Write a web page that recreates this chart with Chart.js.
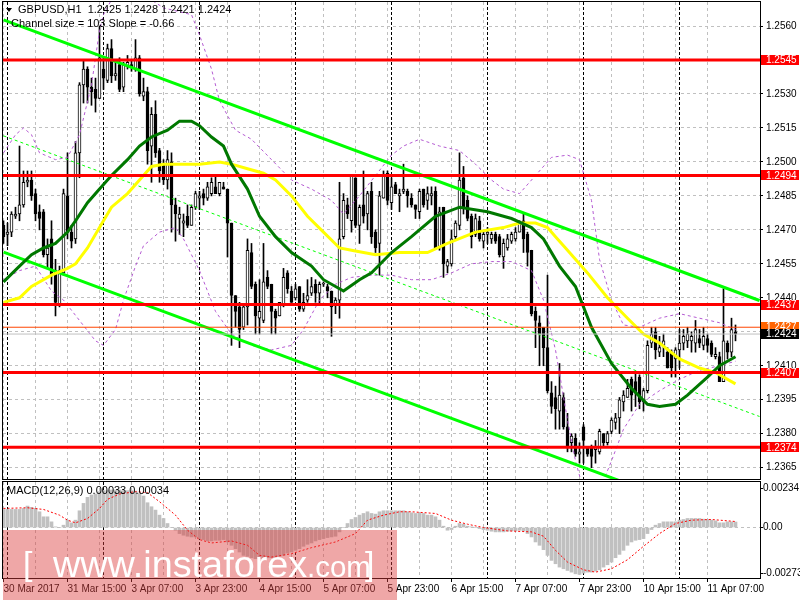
<!DOCTYPE html>
<html>
<head>
<meta charset="utf-8">
<script src="https://cdn.jsdelivr.net/npm/chart.js@4.4.1/dist/chart.umd.min.js"></script>
<style>
  html, body { margin: 0; padding: 0; background: #fff; }
  #wrap { position: relative; width: 800px; height: 600px; overflow: hidden; }
  #main { position: absolute; left: 0; top: 0; }
  #macd { position: absolute; left: 0; top: 480px; }
</style>
</head>
<body>
<div id="wrap">
  <canvas id="main" width="800" height="480"></canvas>
  <canvas id="macd" width="800" height="120"></canvas>
</div>
<script>
// GBPUSD H1, 30 Mar 23:00 .. 11 Apr 14:00 (184 bars)
const opens = [1.2472,1.2468,1.2469,1.2476,1.2477,1.2481,1.2491,1.2492,1.2486,1.2478,
  1.2478,1.2459,1.2466,1.2452,1.2437,1.2451,1.2485,1.2469,1.2466,1.2504,
  1.2534,1.2541,1.2533,1.2532,1.2528,1.2541,1.2536,1.2550,1.2538,1.2543,
  1.2533,1.2542,1.2543,1.2541,1.2546,1.2529,1.2531,1.2507,1.2521,1.2505,
  1.2499,1.2492,1.2500,1.2481,1.2475,1.2473,1.2476,1.2472,1.2480,1.2484,
  1.2486,1.2484,1.2486,1.2489,1.2486,1.2489,1.2488,1.2473,1.2441,1.2436,
  1.2427,1.2436,1.2460,1.2446,1.2431,1.2430,1.2449,1.2446,1.2434,1.2432,
  1.2437,1.2451,1.2443,1.2440,1.2445,1.2435,1.2439,1.2442,1.2446,1.2442,
  1.2446,1.2445,1.2443,1.2437,1.2439,1.2467,1.2481,1.2474,1.2493,1.2472,
  1.2481,1.2477,1.2487,1.2469,1.2464,1.2484,1.2495,1.2482,1.2490,1.2485,
  1.2487,1.2487,1.2484,1.2481,1.2478,1.2488,1.2483,1.2485,1.2487,1.2462,
  1.2480,1.2454,1.2455,1.2467,1.2472,1.2493,1.2483,1.2476,1.2468,1.2474,
  1.2465,1.2468,1.2466,1.2468,1.2467,1.2458,1.2462,1.2465,1.2466,1.2469,
  1.2474,1.2468,1.2461,1.2434,1.2429,1.2427,1.2418,1.2398,1.2396,1.2390,
  1.2396,1.2383,1.2376,1.2378,1.2371,1.2383,1.2374,1.2374,1.2373,1.2372,
  1.2380,1.2376,1.2381,1.2385,1.2387,1.2394,1.2396,1.2404,1.2403,1.2405,
  1.2394,1.2399,1.2420,1.2425,1.2416,1.2419,1.2416,1.2416,1.2413,1.2417,
  1.2420,1.2421,1.2421,1.2420,1.2422,1.2419,1.2422,1.2420,1.2414,1.2414,
  1.2403,1.2420,1.2416,1.2425];
const highs = [1.2474,1.2473,1.2478,1.2480,1.2507,1.2496,1.2496,1.2496,1.2488,1.2481,
  1.2479,1.2466,1.2474,1.2457,1.2454,1.2488,1.2504,1.2472,1.2509,1.2535,
  1.2545,1.2542,1.2537,1.2537,1.2560,1.2546,1.2552,1.2554,1.2544,1.2546,
  1.2544,1.2547,1.2545,1.2554,1.2547,1.2537,1.2533,1.2524,1.2527,1.2506,
  1.2501,1.2505,1.2504,1.2484,1.2480,1.2477,1.2481,1.2481,1.2487,1.2487,
  1.2488,1.2491,1.2493,1.2494,1.2491,1.2491,1.2488,1.2473,1.2441,1.2438,
  1.2437,1.2466,1.2464,1.2447,1.2448,1.2464,1.2452,1.2446,1.2435,1.2438,
  1.2453,1.2452,1.2445,1.2446,1.2445,1.2442,1.2448,1.2449,1.2448,1.2447,
  1.2447,1.2446,1.2443,1.2440,1.2491,1.2486,1.2484,1.2494,1.2493,1.2481,
  1.2496,1.2487,1.2491,1.2470,1.2487,1.2496,1.2496,1.2493,1.2491,1.2488,
  1.2499,1.2488,1.2486,1.2481,1.2488,1.2488,1.2489,1.2489,1.2489,1.2480,
  1.2480,1.2457,1.2470,1.2474,1.2504,1.2498,1.2485,1.2477,1.2477,1.2476,
  1.2469,1.2471,1.2469,1.2469,1.2468,1.2466,1.2468,1.2469,1.2471,1.2474,
  1.2477,1.2469,1.2461,1.2436,1.2432,1.2427,1.2450,1.2403,1.2401,1.2411,
  1.2398,1.2389,1.2380,1.2380,1.2376,1.2384,1.2374,1.2375,1.2377,1.2382,
  1.2380,1.2381,1.2387,1.2389,1.2396,1.2399,1.2404,1.2405,1.2407,1.2406,
  1.2400,1.2421,1.2427,1.2427,1.2423,1.2424,1.2418,1.2417,1.2418,1.2426,
  1.2426,1.2427,1.2425,1.2430,1.2426,1.2427,1.2424,1.2421,1.2418,1.2416,
  1.2444,1.2421,1.2431,1.2428];
const lows = [1.2464,1.2463,1.2467,1.2475,1.2474,1.2480,1.2489,1.2483,1.2474,1.2470,
  1.2458,1.2453,1.2446,1.2432,1.2436,1.2450,1.2466,1.2462,1.2464,1.2493,
  1.2526,1.2526,1.2525,1.2522,1.2528,1.2532,1.2535,1.2535,1.2536,1.2531,
  1.2531,1.2541,1.2540,1.2540,1.2529,1.2527,1.2499,1.2491,1.2502,1.2491,
  1.2490,1.2488,1.2469,1.2465,1.2468,1.2467,1.2471,1.2472,1.2479,1.2479,
  1.2481,1.2483,1.2485,1.2486,1.2485,1.2488,1.2458,1.2419,1.2427,1.2418,
  1.2426,1.2428,1.2444,1.2424,1.2424,1.2429,1.2444,1.2424,1.2424,1.2432,
  1.2436,1.2442,1.2438,1.2439,1.2434,1.2434,1.2438,1.2441,1.2438,1.2437,
  1.2445,1.2440,1.2423,1.2433,1.2431,1.2466,1.2475,1.2469,1.2471,1.2464,
  1.2473,1.2470,1.2464,1.2460,1.2450,1.2484,1.2481,1.2479,1.2486,1.2478,
  1.2486,1.2480,1.2480,1.2475,1.2475,1.2480,1.2479,1.2481,1.2462,1.2461,
  1.2449,1.2451,1.2454,1.2466,1.2470,1.2477,1.2474,1.2462,1.2467,1.2465,
  1.2462,1.2464,1.2464,1.2464,1.2458,1.2453,1.2461,1.2464,1.2465,1.2469,
  1.2460,1.2454,1.2432,1.2418,1.2410,1.2410,1.2398,1.2389,1.2382,1.2382,
  1.2382,1.2372,1.2372,1.2370,1.2367,1.2367,1.2370,1.2365,1.2367,1.2371,
  1.2374,1.2375,1.2380,1.2382,1.2380,1.2390,1.2396,1.2390,1.2392,1.2391,
  1.2390,1.2398,1.2418,1.2413,1.2414,1.2414,1.2409,1.2405,1.2405,1.2409,
  1.2417,1.2418,1.2416,1.2416,1.2418,1.2417,1.2416,1.2414,1.2413,1.2403,
  1.2403,1.2413,1.2414,1.2421];
const closes = [1.2467,1.2469,1.2477,1.2477,1.2481,1.2491,1.2492,1.2485,1.2477,1.2475,
  1.2459,1.2462,1.2450,1.2438,1.2452,1.2486,1.2469,1.2465,1.2504,1.2534,
  1.2541,1.2533,1.2531,1.2528,1.2546,1.2537,1.2550,1.2538,1.2539,1.2532,
  1.2543,1.2544,1.2542,1.2546,1.2530,1.2531,1.2505,1.2521,1.2504,1.2496,
  1.2492,1.2501,1.2481,1.2477,1.2477,1.2474,1.2472,1.2480,1.2486,1.2485,
  1.2484,1.2489,1.2491,1.2486,1.2491,1.2488,1.2473,1.2441,1.2434,1.2426,
  1.2436,1.2461,1.2445,1.2432,1.2434,1.2447,1.2445,1.2434,1.2431,1.2438,
  1.2449,1.2444,1.2438,1.2444,1.2435,1.2438,1.2441,1.2445,1.2442,1.2446,
  1.2446,1.2443,1.2436,1.2439,1.2466,1.2483,1.2477,1.2494,1.2472,1.2480,
  1.2476,1.2486,1.2467,1.2462,1.2485,1.2494,1.2483,1.2489,1.2486,1.2486,
  1.2488,1.2485,1.2481,1.2479,1.2487,1.2481,1.2486,1.2486,1.2462,1.2478,
  1.2455,1.2456,1.2466,1.2473,1.2492,1.2480,1.2475,1.2467,1.2475,1.2466,
  1.2468,1.2469,1.2468,1.2465,1.2459,1.2464,1.2466,1.2468,1.2469,1.2473,
  1.2466,1.2460,1.2433,1.2430,1.2424,1.2418,1.2399,1.2392,1.2391,1.2397,
  1.2383,1.2374,1.2379,1.2371,1.2372,1.2377,1.2371,1.2370,1.2374,1.2381,
  1.2376,1.2380,1.2386,1.2387,1.2395,1.2397,1.2400,1.2397,1.2398,1.2394,
  1.2399,1.2419,1.2424,1.2417,1.2418,1.2421,1.2409,1.2409,1.2417,1.2420,
  1.2423,1.2424,1.2423,1.2426,1.2420,1.2423,1.2419,1.2415,1.2415,1.2403,
  1.2421,1.2416,1.2426,1.2424];

// MACD(12,26,9) histogram and signal
const macdHist = [0.00108,0.00108,0.00108,0.00108,0.00108,0.00114,0.00128,0.0012,0.00114,0.00094,
  0.00064,0.00064,0.00034,0.00004,0,0.00014,0.00044,0.00028,0.00044,0.001,
  0.00144,0.0018,0.00194,0.002,0.00214,0.0022,0.0022,0.00224,0.00224,0.00224,
  0.0022,0.0022,0.0022,0.00218,0.00204,0.00188,0.00148,0.00124,0.00104,0.00074,
  0.00054,0.00024,0,-0.00016,-0.00036,-0.00046,-0.00052,-0.00056,-0.00056,-0.00066,
  -0.00072,-0.0008,-0.0008,-0.00076,-0.00076,-0.00072,-0.00086,-0.00106,-0.00126,-0.00146,
  -0.00166,-0.00172,-0.0018,-0.00186,-0.00186,-0.00186,-0.0018,-0.0018,-0.0018,-0.00172,
  -0.00166,-0.00152,-0.00146,-0.00136,-0.00126,-0.00112,-0.001,-0.00092,-0.0008,-0.00072,
  -0.00066,-0.0006,-0.00056,-0.00052,-0.00026,0,0.00024,0.00048,0.0006,0.00074,
  0.00084,0.00094,0.00084,0.0008,0.00094,0.001,0.001,0.001,0.001,0.001,
  0.001,0.00094,0.00088,0.00084,0.00088,0.00084,0.00074,0.00074,0.00064,0.00044,
  0.00008,-0.00016,-0.00012,0.00008,0.00024,0.0002,0.00008,0.00004,0,-0.00006,
  -0.00012,-0.00016,-0.00022,-0.00026,-0.00026,-0.00026,-0.00022,-0.0002,-0.0002,-0.00016,
  -0.0002,-0.00036,-0.00056,-0.00086,-0.00106,-0.00132,-0.00166,-0.00196,-0.00216,-0.00236,
  -0.00246,-0.00256,-0.00266,-0.00276,-0.0028,-0.00272,-0.00266,-0.00266,-0.0026,-0.00252,
  -0.00236,-0.00222,-0.00206,-0.0018,-0.0016,-0.00136,-0.00106,-0.00086,-0.00076,-0.00072,
  -0.00066,-0.00036,-0.00012,0.00014,0.00024,0.00034,0.00034,0.00034,0.00034,0.00044,
  0.00048,0.00054,0.00054,0.00054,0.00054,0.0005,0.00048,0.00044,0.0004,0.00028,
  0.00028,0.00034,0.00034,0.00033];
const signalIdx = [0,6,10,14,16,18,21,24,26,29,33,36,39,43,46,49,52,57,61,64,67,72,77,83,88,91,95,99,
  102,108,112,116,120,126,132,135,138,141,145,148,152,156,160,164,168,172,177,183];
const signalVal = [0.00114,0.00118,0.00108,0.00074,0.00044,0.00028,0.00054,0.00114,0.00168,0.002,0.00214,0.00208,0.00154,0.00074,-0.00016,-0.00072,-0.00092,-0.0008,-0.00106,-0.00166,-0.00176,-0.00156,-0.0012,-0.00086,-0.00036,0.00044,0.00074,0.00094,
  0.00094,0.00084,0.00044,0.0002,0,-0.0002,-0.00026,-0.00052,-0.00136,-0.00206,-0.00252,-0.00266,-0.00246,-0.00192,-0.00112,-0.00036,0.00024,0.00044,0.00048,0.00036];

// moving averages (read at sample bars)
const maFastIdx = [0,4,7,10,13,16,18,21,24,27,31,34,37,41,44,47,49,52,55,57,61,64,68,72,77,80,84,85,89,92,97,102,108,114,121,127,132,135,139,143,147,152,157,161,164,168,171,176,179,183];
const maFastVal = [1.2447,1.2454,1.2459,1.2462,1.2464,1.2469,1.2474,1.2482,1.2488,1.2494,1.2501,1.2507,1.2511,1.2514,1.2518,1.2518,1.2516,1.2511,1.2507,1.2499,1.2488,1.2476,1.2467,1.2460,1.2454,1.2448,1.2444,1.2443,1.2448,1.2451,1.2460,1.2467,1.2476,1.2480,1.2478,1.2475,1.2471,1.2466,1.2454,1.2445,1.2427,1.2411,1.2400,1.2393,1.2392,1.2393,1.2397,1.2405,1.2410,1.2414];
const maSlowIdx = [0,4,7,12,16,18,21,24,27,31,34,37,40,44,49,54,57,61,65,68,72,76,80,84,87,93,99,106,111,118,125,129,133,136,138,141,146,151,156,160,164,169,174,178,183];
const maSlowVal = [1.2438,1.2440,1.2445,1.2450,1.2453,1.2455,1.2462,1.2471,1.2480,1.2486,1.2492,1.2498,1.2499,1.2499,1.2499,1.2500,1.2499,1.2497,1.2495,1.2492,1.2485,1.2476,1.2469,1.2462,1.2461,1.2459,1.2460,1.2460,1.2464,1.2469,1.2471,1.2473,1.2473,1.2471,1.2467,1.2461,1.2451,1.2440,1.2431,1.2424,1.2420,1.2413,1.2409,1.2407,1.2402];

// envelope bands (purple dashed)
const bandUpIdx = [0,3,5,7,9,13,16,19,22,24,25,28,34,40,47,49,52,54,58,62,67,72,77,82,85,89,93,97,100,104,109,114,118,122,125,129,133,137,141,144,147,149,152,155,159,164,169,174,179,183];
const bandUpVal = [1.2504,1.2512,1.2515,1.2512,1.2504,1.2501,1.2502,1.2512,1.2534,1.2558,1.2565,1.2575,1.2575,1.2568,1.2565,1.2556,1.2541,1.2527,1.2514,1.2510,1.2501,1.2492,1.2488,1.2483,1.2477,1.2485,1.2494,1.2503,1.2507,1.2510,1.2507,1.2505,1.2499,1.2492,1.2488,1.2486,1.2494,1.2502,1.2503,1.2501,1.2483,1.2457,1.2439,1.2428,1.2427,1.2431,1.2433,1.2431,1.2429,1.2426];
const bandLoIdx = [0,4,8,12,15,19,23,25,28,30,33,35,39,43,45,49,53,57,62,67,72,75,79,83,87,92,97,102,107,112,117,122,127,132,135,138,141,143,145,149,152,155,159,164,169,174,179,183];
const bandLoVal = [1.2448,1.2452,1.2454,1.2443,1.2439,1.2430,1.2421,1.2419,1.2426,1.2439,1.2454,1.2463,1.2469,1.2471,1.2466,1.2452,1.2434,1.2424,1.2419,1.2417,1.2419,1.2426,1.2439,1.2446,1.2449,1.2450,1.2450,1.2448,1.2448,1.2451,1.2455,1.2456,1.2456,1.2452,1.2439,1.2417,1.2386,1.2368,1.2355,1.2355,1.2368,1.2382,1.2393,1.2399,1.2404,1.2408,1.2410,1.2412];

// regression channel (two end points)
const channelIdx = [0, 189];
const channelUpper = [1.25627, 1.24388];
const channelMid = [1.25115, 1.23876];
const channelLower = [1.24602, 1.23363];

// horizontal levels
const redLevels = [1.2545, 1.2494, 1.2437, 1.2407, 1.2374];
const askLevel = 1.2427;
const bidLevel = 1.2424;

const priceTicks = [1.2365,1.2380,1.2395,1.2410,1.2425,1.2440,1.2455,1.2470,1.2485,1.2500,1.2515,1.2530,1.2545,1.2560];
const macdTicks = [-0.00273, 0, 0.00234];
const macdTickLabels = ['-0.00273', '0.00', '0.00234'];
const timeLabels = ['30 Mar 2017','31 Mar 15:00','3 Apr 07:00','3 Apr 23:00','4 Apr 15:00','5 Apr 07:00',
  '5 Apr 23:00','6 Apr 15:00','7 Apr 07:00','7 Apr 23:00','10 Apr 15:00','11 Apr 07:00'];
const dayStarts = [1, 25, 49, 73, 97, 121, 145, 169];

const FONT = '"Liberation Sans", Arial, sans-serif';
Chart.defaults.font.family = FONT;
Chart.defaults.font.size = 10;
Chart.defaults.color = '#000';

const xMin = -0.125, xMax = 189.125;
const bars = opens.map((_, i) => i);
const gridBars = bars.filter(i => i % 8 === 0);
const GRID = '#c0c0c0';

const pts = (idx, vals) => idx.map((x, k) => ({ x: x, y: vals[k] }));
const flat = v => [{ x: xMin, y: v }, { x: xMax, y: v }];
function lineDs(data, color, width, dash, order) {
  return { type: 'line', data: data, borderColor: color, borderWidth: width, borderDash: dash || [],
    pointRadius: 0, tension: 0, fill: false, clip: 0, order: order };
}

function xScale(hideLabels, height) {
  return {
    type: 'linear', min: xMin, max: xMax, offset: false,
    afterBuildTicks: s => { s.ticks = gridBars.map(v => ({ value: v })); },
    afterFit: s => { s.height = height; s.paddingLeft = 0; s.paddingRight = 0; },
    ticks: hideLabels ? { display: false } : {
      autoSkip: false, maxRotation: 0, align: 'start', padding: 1,
      callback: v => (v % 16 === 0 ? timeLabels[v / 16] : '')
    },
    grid: {
      color: GRID, offset: false, drawTicks: !hideLabels, tickLength: 4,
      tickColor: c => (c.tick && c.tick.value % 16 === 0 ? '#000' : 'rgba(0,0,0,0)'),
      tickBorderDash: []
    },
    border: { display: false, dash: [3, 3] }
  };
}
const fitY = s => { s.width = 40; s.paddingTop = 0; s.paddingBottom = 0; };

function drawDaySeparators(chart) {
  const { ctx, chartArea: a, scales: { x } } = chart;
  ctx.save();
  ctx.strokeStyle = '#000';
  ctx.lineWidth = 1;
  ctx.setLineDash([3, 2]);
  dayStarts.forEach(d => {
    const px = Math.round(x.getPixelForValue(d) - 0.5) + 0.5;
    ctx.beginPath();
    ctx.moveTo(px, a.top);
    ctx.lineTo(px, a.bottom);
    ctx.stroke();
  });
  ctx.restore();
}

function drawFrame(chart) {
  const { ctx, chartArea: a } = chart;
  ctx.save();
  ctx.strokeStyle = '#000';
  ctx.lineWidth = 1;
  ctx.strokeRect(a.left - 0.5, a.top - 0.5, a.right - a.left + 1, a.bottom - a.top + 1);
  ctx.restore();
}

const mainDecor = {
  id: 'mainDecor',
  beforeDatasetsDraw(chart) { drawDaySeparators(chart); },
  afterDraw(chart) {
    const { ctx } = chart;
    const y = chart.scales.y;
    drawFrame(chart);
    ctx.save();
    ctx.font = '10px ' + FONT;
    ctx.textBaseline = 'middle';
    const box = (v, bg) => {
      const py = y.getPixelForValue(v);
      ctx.fillStyle = bg;
      ctx.fillRect(761, Math.round(py) - 5, 38, 10);
      ctx.fillStyle = '#fff';
      ctx.fillText(v.toFixed(4), 766, py + 0.5);
    };
    redLevels.forEach(v => box(v, '#ff0000'));
    box(askLevel, '#ff6400');
    box(bidLevel, '#000000');
    // header
    ctx.fillStyle = '#000';
    ctx.beginPath();
    ctx.moveTo(6, 8); ctx.lineTo(12, 8); ctx.lineTo(9, 12); ctx.closePath(); ctx.fill();
    ctx.font = '11px ' + FONT;
    ctx.fillText('GBPUSD,H1  1.2425 1.2428 1.2421 1.2424', 18, 10);
    ctx.fillText('Channel size = 103 Slope = -0.66', 11, 24);
    ctx.restore();
  }
};

const macdDecor = {
  id: 'macdDecor',
  beforeDatasetsDraw(chart) { drawDaySeparators(chart); },
  afterDraw(chart) {
    const { ctx } = chart;
    drawFrame(chart);
    ctx.save();
    ctx.font = '11px ' + FONT;
    ctx.textBaseline = 'middle';
    ctx.fillStyle = '#000';
    ctx.fillText('MACD(12,26,9) 0.00033 0.00034', 7, 11);
    // watermark
    ctx.fillStyle = 'rgba(220,60,60,0.45)';
    ctx.fillRect(3, 50, 394, 70);
    ctx.fillStyle = '#fff';
    ctx.textBaseline = 'alphabetic';
    ctx.font = '40px ' + FONT;
    const size = 40 * 254 / ctx.measureText('www.instaforex').width;
    ctx.font = size.toFixed(1) + 'px ' + FONT;
    ctx.fillText('www.instaforex', 53, 97);
    ctx.font = (size * 0.78).toFixed(1) + 'px ' + FONT;
    ctx.fillText('.com', 307, 97);
    ctx.font = '34px ' + FONT;
    ctx.fillText('[', 23, 95);
    ctx.fillText(']', 365, 95);
    ctx.restore();
  }
};

new Chart(document.getElementById('main'), {
  type: 'bar',
  data: {
    datasets: [
      { type: 'bar', data: bars.map(i => ({ x: i, y: [lows[i], highs[i]] })), backgroundColor: '#000',
        borderWidth: 0, grouped: false, barThickness: 1, maxBarThickness: 1, order: 21 },
      { type: 'bar', data: bars.map(i => ({ x: i, y: [opens[i], closes[i]] })),
        backgroundColor: bars.map(i => (closes[i] >= opens[i] ? '#fff' : '#000')),
        borderColor: '#000', borderWidth: 1, borderSkipped: false, minBarLength: 1,
        grouped: false, barThickness: 3, maxBarThickness: 3, order: 20 },
      lineDs(pts(bandUpIdx, bandUpVal), '#b45ad2', 1, [3, 3], 9),
      lineDs(pts(bandLoIdx, bandLoVal), '#b45ad2', 1, [3, 3], 9),
      lineDs(pts(channelIdx, channelMid), '#00ff00', 1, [3, 3], 8),
      lineDs(pts(channelIdx, channelUpper), '#00ff00', 3, [], 7),
      lineDs(pts(channelIdx, channelLower), '#00ff00', 3, [], 7),
      lineDs(pts(maSlowIdx, maSlowVal), '#ffff00', 3, [], 6),
      lineDs(pts(maFastIdx, maFastVal), '#007800', 3, [], 5),
      lineDs(flat(bidLevel), '#c0c0c0', 1, [], 4),
      lineDs(flat(askLevel), '#ff4500', 1, [], 4),
      ...redLevels.map(v => lineDs(flat(v), '#ff0000', 3, [], 3))
    ]
  },
  options: {
    responsive: false, animation: false,
    layout: { padding: { left: 3, top: 2, right: 0, bottom: 1 } },
    plugins: { legend: { display: false }, tooltip: { enabled: false } },
    scales: {
      x: xScale(true, 0),
      y: {
        position: 'right', min: 1.23600, max: 1.25706,
        afterBuildTicks: s => { s.ticks = priceTicks.map(v => ({ value: v })); },
        afterFit: fitY,
        ticks: { autoSkip: false, padding: 3, callback: v => v.toFixed(4) },
        grid: { color: GRID, tickColor: '#000', tickLength: 3, tickBorderDash: [] },
        border: { display: false, dash: [3, 3] }
      }
    }
  },
  plugins: [mainDecor]
});

new Chart(document.getElementById('macd'), {
  type: 'bar',
  data: {
    datasets: [
      { type: 'bar', data: bars.map(i => ({ x: i, y: macdHist[i] })), backgroundColor: '#c0c0c0',
        borderWidth: 0, barThickness: 3, maxBarThickness: 3, order: 2 },
      lineDs(pts(signalIdx, signalVal), '#ff0000', 1, [2, 2], 1)
    ]
  },
  options: {
    responsive: false, animation: false,
    layout: { padding: { left: 3, top: 2, right: 0, bottom: 0 } },
    plugins: { legend: { display: false }, tooltip: { enabled: false } },
    scales: {
      x: xScale(false, 22),
      y: {
        position: 'right', min: -0.00301, max: 0.002716,
        afterBuildTicks: s => { s.ticks = macdTicks.map(v => ({ value: v })); },
        afterFit: fitY,
        ticks: { autoSkip: false, padding: 0, callback: (v, i) => macdTickLabels[i] },
        grid: { color: c => (c.tick && c.tick.value === 0 ? GRID : 'rgba(0,0,0,0)'), tickColor: '#000', tickLength: 3, tickBorderDash: [] },
        border: { display: false, dash: [3, 3] }
      }
    }
  },
  plugins: [macdDecor]
});
</script>
</body>
</html>
